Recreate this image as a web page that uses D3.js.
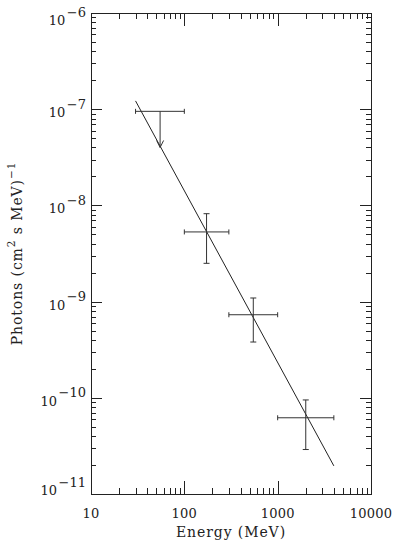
<!DOCTYPE html>
<html>
<head>
<meta charset="utf-8">
<script src="https://cdn.jsdelivr.net/npm/d3@7"></script>
<style>
  body { margin: 0; background: #fff; }
  text { font-family: "DejaVu Serif", serif; fill: #222; }
  .tick line { stroke: #222; }
</style>
</head>
<body>
<div id="container"></div>
<script>
'use strict';
// energy bins (MeV)
var binLo = [30, 100, 300, 1000];
var binHi = [100, 300, 1000, 4000];
var binE = [55, 173, 548, 2000];
// flux, photons (cm^2 s MeV)^-1
var flux = [9.5e-8, 5.3e-9, 7.3e-10, 6.2e-11];
var fluxLo = [4.0e-8, 2.5e-9, 3.8e-10, 2.9e-11];
var fluxHi = [9.5e-8, 8.2e-9, 1.09e-9, 9.5e-11];
var upperLimit = [true, false, false, false];
// power law fit
var fitE = [30, 4000];
var fitF = [1.22e-7, 1.96e-11];
// tick labels
var xTickVals = [10, 100, 1000, 10000];
var yTickExp = [-6, -7, -8, -9, -10, -11];

var W = 400, H = 545;
var margin = {top: 13, right: 28, bottom: 51, left: 91};

var svg = d3.select('#container').append('svg')
    .attr('width', W).attr('height', H);

var x = d3.scaleLog().domain([10, 10000]).range([margin.left, W - margin.right - 1]);
var y = d3.scaleLog().domain([1e-11, 1e-6]).range([H - margin.bottom, margin.top]);

var isMajor = function(v) { return Math.abs(Math.log10(v) - Math.round(Math.log10(v))) < 1e-6; };
var xAll = x.ticks(), yAll = y.ticks();
var xMinor = xAll.filter(function(v) { return !isMajor(v); });
var yMinor = yAll.filter(function(v) { return !isMajor(v); });
var xMajor = xAll.filter(isMajor), yMajor = yAll.filter(isMajor);

var x0 = x.range()[0], x1 = x.range()[1], y0 = y.range()[0], y1 = y.range()[1];

function addAxis(gen, tr) {
    var g = svg.append('g').attr('transform', tr).call(gen);
    g.select('.domain').remove();
    g.selectAll('text').remove();
    g.selectAll('line').attr('shape-rendering', 'crispEdges');
}
// inward ticks on all four sides
addAxis(d3.axisBottom(x).tickValues(xMajor).tickSize(-13), 'translate(0,' + y0 + ')');
addAxis(d3.axisBottom(x).tickValues(xMinor).tickSize(-6), 'translate(0,' + y0 + ')');
addAxis(d3.axisTop(x).tickValues(xMajor).tickSize(-13), 'translate(0,' + y1 + ')');
addAxis(d3.axisTop(x).tickValues(xMinor).tickSize(-6), 'translate(0,' + y1 + ')');
addAxis(d3.axisLeft(y).tickValues(yMajor).tickSize(-11), 'translate(' + x0 + ',0)');
addAxis(d3.axisLeft(y).tickValues(yMinor).tickSize(-5), 'translate(' + x0 + ',0)');
addAxis(d3.axisRight(y).tickValues(yMajor).tickSize(-11), 'translate(' + x1 + ',0)');
addAxis(d3.axisRight(y).tickValues(yMinor).tickSize(-5), 'translate(' + x1 + ',0)');

svg.append('rect')
    .attr('x', x0).attr('y', y1)
    .attr('width', x1 - x0).attr('height', y0 - y1)
    .attr('fill', 'none').attr('stroke', '#222')
    .attr('shape-rendering', 'crispEdges');

// x tick labels
svg.selectAll('.xlab').data(xTickVals).enter().append('text')
    .attr('class', 'xlab')
    .attr('x', function(d) { return x(d); })
    .attr('y', y0 + 24)
    .attr('text-anchor', 'middle')
    .attr('font-size', 13)
    .attr('letter-spacing', 0.2)
    .text(function(d) { return d; });

// y tick labels 10^n
var ylab = svg.selectAll('.ylab').data(yTickExp).enter().append('text')
    .attr('class', 'ylab')
    .attr('x', x0 - 5)
    .attr('y', function(d) { return Math.max(25, Math.min(y(Math.pow(10, d)) + 8, y0 + 1)); })
    .attr('text-anchor', 'end')
    .attr('font-size', 13);
ylab.append('tspan').text('10');
ylab.append('tspan').attr('dy', -8.5).attr('dx', 1.5)
    .text(function(d) { return '\u2212' + Math.abs(d); });

// axis titles
svg.append('text')
    .attr('x', (x0 + x1) / 2).attr('y', y0 + 43)
    .attr('text-anchor', 'middle').attr('font-size', 14)
    .attr('letter-spacing', 0.9)
    .text('Energy (MeV)');

var yt = svg.append('text')
    .attr('transform', 'translate(22,' + ((y0 + y1) / 2) + ') rotate(-90)')
    .attr('text-anchor', 'middle').attr('font-size', 14)
    .attr('letter-spacing', 0.9);
yt.append('tspan').text('Photons (cm');
yt.append('tspan').attr('dy', -7).attr('font-size', 10.5).text('2');
yt.append('tspan').attr('dy', 7).text(' s MeV)');
yt.append('tspan').attr('dy', -7).attr('font-size', 10.5).text('\u22121');

// fit line
svg.append('line')
    .attr('x1', x(fitE[0])).attr('y1', y(fitF[0]))
    .attr('x2', x(fitE[1])).attr('y2', y(fitF[1]))
    .attr('stroke', '#222').attr('stroke-width', 1);

// data points
var pts = binE.map(function(e, i) {
    return {e: e, lo: binLo[i], hi: binHi[i], f: flux[i], fl: fluxLo[i], fh: fluxHi[i], ul: upperLimit[i]};
});
var g = svg.append('g').attr('stroke', '#333').attr('stroke-width', 1).attr('fill', 'none');
pts.forEach(function(d) {
    var cx = x(d.e), cy = y(d.f);
    var p = d3.path();
    // horizontal bar with caps
    p.moveTo(x(d.lo), cy); p.lineTo(x(d.hi), cy);
    p.moveTo(x(d.lo), cy - 2.5); p.lineTo(x(d.lo), cy + 2.5);
    p.moveTo(x(d.hi), cy - 2.5); p.lineTo(x(d.hi), cy + 2.5);
    if (d.ul) {
        var ty = y(d.fl);
        p.moveTo(cx, cy); p.lineTo(cx, ty);
        p.moveTo(cx - 3.5, ty - 7); p.lineTo(cx, ty); p.lineTo(cx + 3.5, ty - 7);
    } else {
        p.moveTo(cx, y(d.fh)); p.lineTo(cx, y(d.fl));
        p.moveTo(cx - 3, y(d.fh)); p.lineTo(cx + 3, y(d.fh));
        p.moveTo(cx - 3, y(d.fl)); p.lineTo(cx + 3, y(d.fl));
    }
    g.append('path').attr('d', p.toString());
});
</script>
</body>
</html>
